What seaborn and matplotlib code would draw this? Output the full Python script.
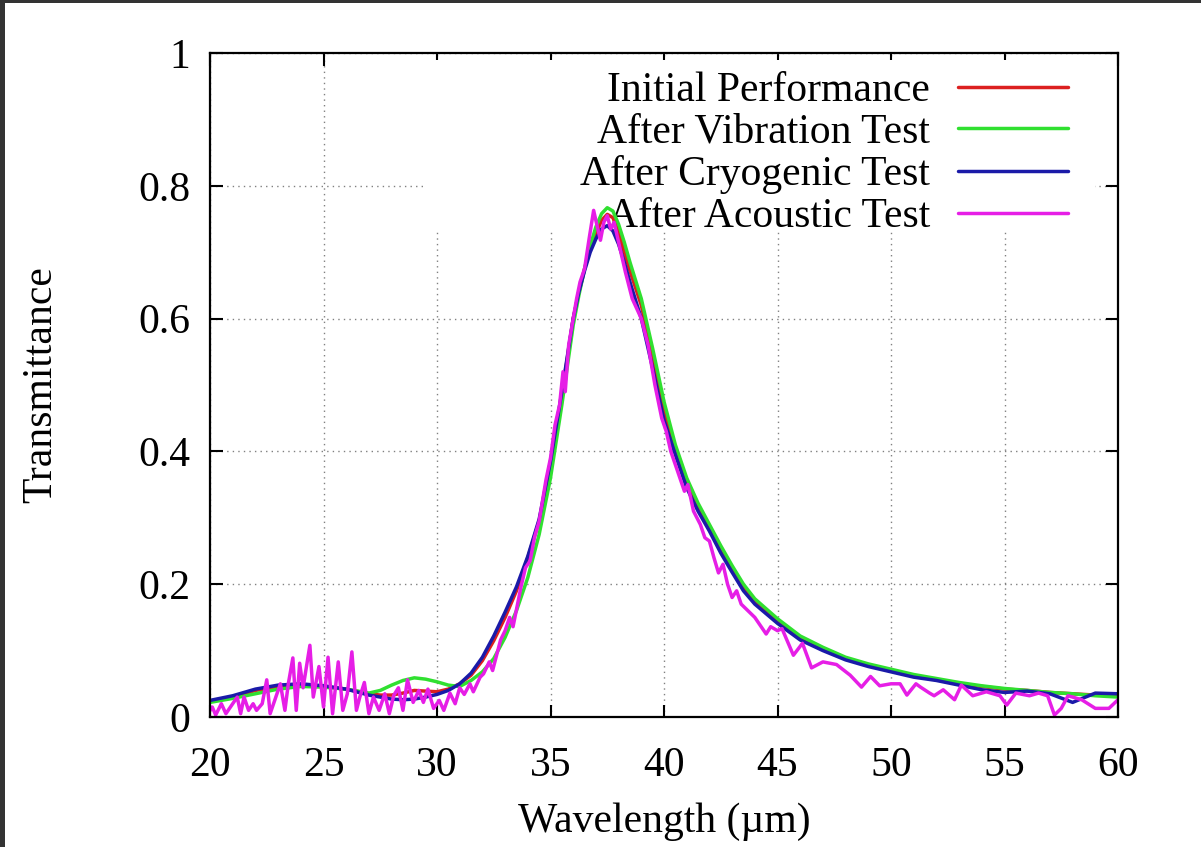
import numpy as np
import pandas as pd
import matplotlib
matplotlib.use("Agg")
import matplotlib.pyplot as plt
from matplotlib.patches import Rectangle
import seaborn as sns

# wavelength grid (um) shared by the three smooth curves
wl = [20, 21, 22, 23, 24, 25, 26, 27, 27.5, 28, 28.5, 29, 29.5, 30, 30.5, 31,
      31.5, 32, 32.5, 33, 33.5, 34, 34.5, 35, 35.5, 36, 36.25, 36.5, 36.75, 37,
      37.25, 37.5, 37.75, 38, 38.25, 38.5, 39, 39.5, 40, 40.5, 41, 41.5, 42,
      42.5, 43, 43.5, 44, 45, 46, 47, 48, 49, 50, 51, 52, 53, 54, 55, 56, 57,
      58, 59, 60]

initial = [0.024, 0.030, 0.040, 0.046, 0.048, 0.046, 0.042, 0.035, 0.033, 0.033,
           0.036, 0.040, 0.039, 0.038, 0.042, 0.050, 0.063, 0.085, 0.115, 0.150,
           0.190, 0.240, 0.295, 0.380, 0.485, 0.600, 0.640, 0.675, 0.705, 0.728,
           0.748, 0.757, 0.752, 0.730, 0.700, 0.672, 0.620, 0.545, 0.462, 0.402,
           0.352, 0.316, 0.285, 0.252, 0.222, 0.195, 0.173, 0.144, 0.120, 0.103,
           0.088, 0.078, 0.070, 0.062, 0.056, 0.050, 0.046, 0.042, 0.040, 0.037,
           0.035, 0.033, 0.032]

vibration = [0.022, 0.028, 0.035, 0.042, 0.046, 0.045, 0.042, 0.036, 0.040, 0.048,
             0.055, 0.059, 0.057, 0.053, 0.048, 0.046, 0.055, 0.068, 0.088, 0.120,
             0.160, 0.210, 0.275, 0.360, 0.470, 0.590, 0.635, 0.675, 0.710, 0.738,
             0.758, 0.767, 0.762, 0.742, 0.715, 0.685, 0.630, 0.555, 0.475, 0.410,
             0.360, 0.322, 0.290, 0.258, 0.228, 0.200, 0.178, 0.148, 0.122, 0.105,
             0.090, 0.080, 0.072, 0.064, 0.058, 0.052, 0.047, 0.043, 0.040, 0.037,
             0.035, 0.032, 0.030]

cryogenic = [0.025, 0.032, 0.042, 0.048, 0.050, 0.047, 0.042, 0.033, 0.030, 0.027,
             0.026, 0.027, 0.030, 0.034, 0.040, 0.050, 0.066, 0.090, 0.122, 0.158,
             0.196, 0.242, 0.298, 0.385, 0.490, 0.600, 0.640, 0.672, 0.700, 0.720,
             0.735, 0.740, 0.732, 0.712, 0.685, 0.655, 0.600, 0.525, 0.447, 0.395,
             0.345, 0.310, 0.280, 0.247, 0.218, 0.190, 0.170, 0.141, 0.116, 0.100,
             0.086, 0.076, 0.068, 0.060, 0.055, 0.048, 0.041, 0.037, 0.039, 0.035,
             0.022, 0.036, 0.035]

# acoustic test curve is noisy, read on its own wavelength points
wl_acoustic = [20.0, 20.1, 20.25, 20.5, 20.7, 21.0, 21.2, 21.35, 21.5, 21.7, 21.9,
               22.05, 22.3, 22.5, 22.65, 22.9, 23.1, 23.3, 23.45, 23.65, 23.8,
               23.95, 24.1, 24.25, 24.4, 24.55, 24.8, 25.0, 25.2, 25.4, 25.65,
               25.85, 26.05, 26.25, 26.45, 26.6, 26.8, 27.0, 27.2, 27.45, 27.7,
               27.9, 28.1, 28.3, 28.5, 28.7, 28.95, 29.2, 29.4, 29.6, 29.85, 30.1,
               30.3, 30.57, 30.8, 31.0, 31.2, 31.45, 31.6, 31.9, 32.05, 32.3, 32.45,
               32.8, 33.0, 33.2, 33.35, 33.7, 33.9, 34.1, 34.3, 34.5, 34.8, 35.0,
               35.2, 35.4, 35.55, 35.65, 35.8, 36.0, 36.15, 36.3, 36.5, 36.7, 36.9,
               37.05, 37.2, 37.35, 37.5, 37.65, 37.8, 38.0, 38.3, 38.6, 39.0, 39.3,
               39.6, 39.9, 40.1, 40.3, 40.6, 40.9, 41.05, 41.3, 41.6, 41.8, 42.0,
               42.2, 42.4, 42.6, 42.8, 43.0, 43.2, 43.4, 43.7, 44.0, 44.2, 44.5,
               44.7, 45.0, 45.2, 45.7, 46.1, 46.5, 47.0, 47.6, 48.2, 48.7, 49.1,
               49.5, 50.0, 50.4, 50.7, 51.1, 51.3, 51.7, 51.9, 52.3, 52.8, 53.1,
               53.6, 54.2, 54.8, 55.1, 55.5, 56.1, 56.5, 56.9, 57.2, 57.5, 57.8,
               58.4, 59.0, 59.6, 60.0]

acoustic = [0.010, 0.015, 0.003, 0.020, 0.005, 0.020, 0.030, 0.005, 0.030, 0.010, 0.020,
            0.010, 0.020, 0.056, 0.005, 0.030, 0.050, 0.010, 0.050, 0.089, 0.010,
            0.081, 0.044, 0.076, 0.108, 0.030, 0.076, 0.015, 0.090, 0.005, 0.083,
            0.010, 0.035, 0.098, 0.010, 0.030, 0.052, 0.005, 0.030, 0.010, 0.035,
            0.005, 0.033, 0.044, 0.010, 0.056, 0.022, 0.040, 0.022, 0.042, 0.013, 0.025,
            0.010, 0.036, 0.020, 0.044, 0.034, 0.050, 0.038, 0.060, 0.065, 0.083, 0.070,
            0.116, 0.130, 0.150, 0.136, 0.196, 0.225, 0.235, 0.271, 0.295, 0.357, 0.390,
            0.440, 0.470, 0.520, 0.490, 0.560, 0.600, 0.630, 0.655, 0.675, 0.720, 0.763,
            0.740, 0.718, 0.745, 0.755, 0.735, 0.745, 0.715, 0.670, 0.630, 0.600, 0.560,
            0.500, 0.450, 0.430, 0.400, 0.370, 0.340, 0.350, 0.310, 0.290, 0.270, 0.265,
            0.240, 0.217, 0.230, 0.200, 0.180, 0.190, 0.170, 0.160, 0.150, 0.140, 0.125,
            0.136, 0.130, 0.133, 0.093, 0.111, 0.074, 0.083, 0.079, 0.063, 0.045, 0.061,
            0.047, 0.050, 0.050, 0.033, 0.050, 0.045, 0.036, 0.032, 0.041, 0.026, 0.048,
            0.032, 0.038, 0.032, 0.018, 0.036, 0.032, 0.036, 0.032, 0.003, 0.013, 0.032,
            0.026, 0.013, 0.013, 0.026]

series_names = ["Initial Performance", "After Vibration Test",
                "After Cryogenic Test", "After Acoustic Test"]
colors = ["#dc2020", "#30e030", "#1a1aa8", "#e61ee6"]

df = pd.concat([
    pd.DataFrame({"wl": wl, "T": initial, "test": series_names[0]}),
    pd.DataFrame({"wl": wl, "T": vibration, "test": series_names[1]}),
    pd.DataFrame({"wl": wl, "T": cryogenic, "test": series_names[2]}),
    pd.DataFrame({"wl": wl_acoustic, "T": acoustic, "test": series_names[3]}),
])

sns.set_theme(style="ticks")
plt.rcParams["font.family"] = ["Liberation Serif", "DejaVu Serif"]
plt.rcParams["text.color"] = "black"
plt.rcParams["axes.labelcolor"] = "black"

fig = plt.figure(figsize=(12.01, 8.47), dpi=100, facecolor="#333333")
# white page inside the dark screenshot border
fig.patches.append(Rectangle((5 / 1201, 0), 1, 1 - 3 / 847, transform=fig.transFigure,
                             facecolor="white", edgecolor="none", zorder=-10))
ax = fig.add_axes([210 / 1201, 1 - 717 / 847, 908 / 1201, 664 / 847])

sns.lineplot(data=df, x="wl", y="T", hue="test", hue_order=series_names,
             palette=colors, estimator=None, sort=False, linewidth=2.5, ax=ax)

ax.set_xlim(20, 60)
ax.set_ylim(0, 1)
ax.set_xticks(np.arange(20, 61, 5))
ax.set_yticks([0, 0.2, 0.4, 0.6, 0.8, 1.0])
ax.set_yticklabels(["0", "0.2", "0.4", "0.6", "0.8", "1"])
ax.grid(True, color="#808080", linestyle=(0, (1, 3)), linewidth=1.0)
ax.tick_params(direction="in", length=9, width=1.5, top=True, right=True,
               labelsize=30, colors="black")
ax.tick_params(axis="x", pad=21)
ax.tick_params(axis="y", pad=14)
for sp in ax.spines.values():
    sp.set_linewidth(1.6)
    sp.set_color("black")

ax.set_xlabel("Wavelength (µm)", fontsize=30, labelpad=13)
ax.set_ylabel("Transmittance", fontsize=30, labelpad=56)

# opaque key area (grid hidden behind it, curves drawn over it)
ax.add_patch(Rectangle((0.237, 0.73), 0.738, 0.26, transform=ax.transAxes,
                       facecolor="white", edgecolor="none", zorder=1.2))

leg = ax.legend(loc="upper right", bbox_to_anchor=(0.945, 0.972), fontsize=30,
                markerfirst=False, frameon=False, borderpad=0,
                labelspacing=0.08, handlelength=2.64, handletextpad=0.67,
                borderaxespad=0)
leg.set_zorder(1.5)
for line in leg.get_lines():
    line.set_linewidth(2.5)
# right-align the rows so text ends next to the line samples
leg._legend_box._children[-1]._children[0].align = "right"

fig.savefig("out.png", dpi=100, facecolor=fig.get_facecolor())
